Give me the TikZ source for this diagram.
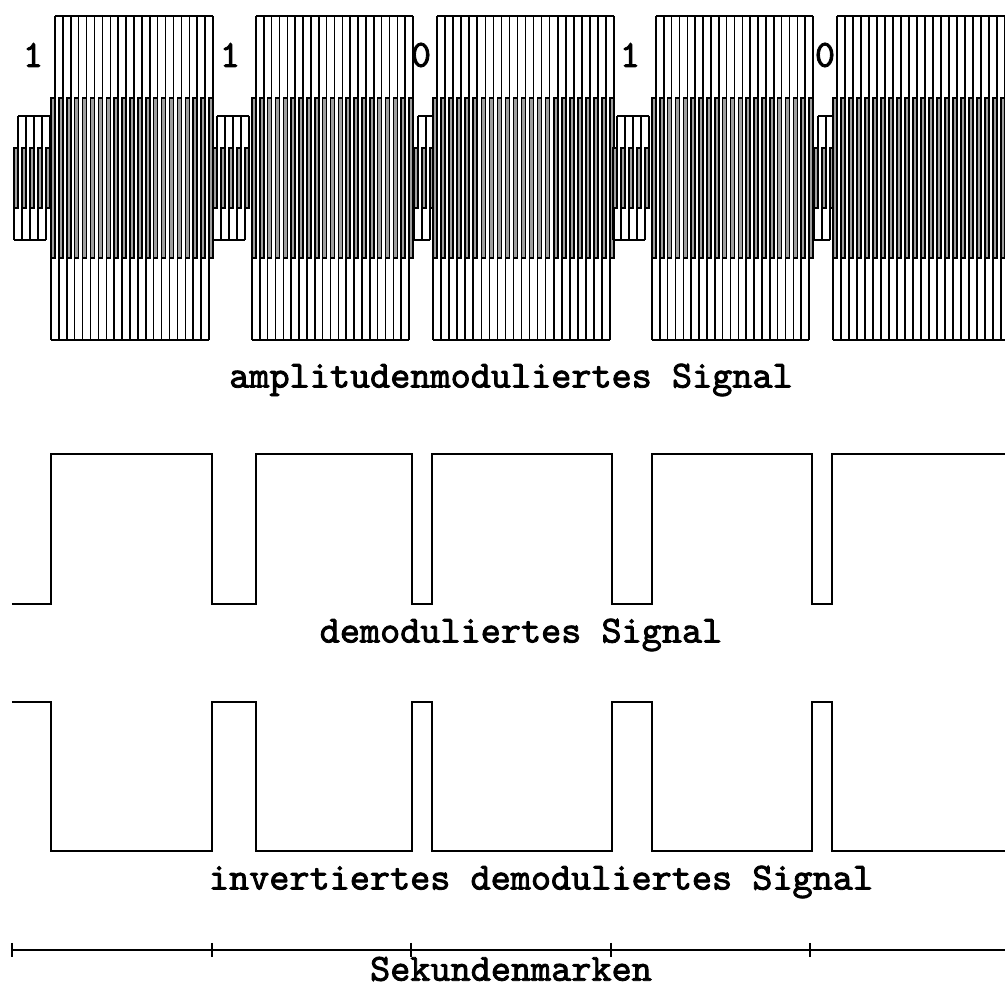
\documentclass[tikz,border=0pt]{standalone}
\usepackage{fontspec}
\newfontfamily\labelfont{lmmono10-regular.otf}[FakeBold=2.2]

% Traegerpaket: Start, Anzahl, Abstand, aeussere Amplitude, Bandbreite
\newcommand{\traeger}[5]{%
  \foreach \i in {1,...,#2}{
    \pgfmathsetmacro{\xa}{#1+#3*(\i-1)}
    \draw[band] (\xa,\mitte-#5) rectangle (\xa+4,\mitte+#5);
    \draw (\xa+4,\mitte-#4) -- (\xa+4,\mitte-#5);
    \draw (\xa,\mitte+#5) -- (\xa,\mitte+#4);
  }
  \pgfmathsetmacro{\xe}{#1+#3*(#2-1)}
  \draw (#1+4,\mitte-#4) -- (\xe+4,\mitte-#4);
  \draw (#1,\mitte+#4) -- (\xe,\mitte+#4);
}

\begin{document}
\begin{tikzpicture}[x=0.01cm,y=-0.01cm,line width=0.45pt,
    label text/.style={font=\labelfont\fontsize{10.9}{12}\selectfont,inner sep=0pt},
    band/.style={draw=black,fill=gray!75}]
  \useasboundingbox (0,0) rectangle (1005,985);
  \clip (0,0) rectangle (1005,985);
  \def\mitte{178}
  \def\hochA{162}
  \def\hochB{80}
  \def\tiefA{62}
  \def\tiefB{30}
  % amplitudenmoduliertes Signal
  \traeger{14}{5}{8}{\tiefA}{\tiefB}
  \traeger{51}{21}{7.9}{\hochA}{\hochB}
  \traeger{213}{5}{8}{\tiefA}{\tiefB}
  \traeger{252}{21}{7.85}{\hochA}{\hochB}
  \traeger{414}{3}{8}{\tiefA}{\tiefB}
  \traeger{433}{23}{8.05}{\hochA}{\hochB}
  \traeger{613}{5}{8}{\tiefA}{\tiefB}
  \traeger{652}{21}{7.85}{\hochA}{\hochB}
  \traeger{814}{3}{8}{\tiefA}{\tiefB}
  \traeger{833}{23}{8}{\hochA}{\hochB}
  \foreach \x/\b [count=\k] in {33/1,230/1,421/0,630/1,825/0}
    \node[label text] (bit\k) at (\x,55) {\b};
  \node[label text] (amsig) at (511,380) {amplitudenmoduliertes Signal};
  % demoduliertes Signal
  \draw (12,604) -| (51,454) -| (212,604) -| (256,454) -| (412,604) -| (432,454)
    -| (612,604) -| (652,454) -| (812,604) -| (832,454) -- (1005,454);
  \node[label text] (demsig) at (521,635) {demoduliertes Signal};
  % invertiertes Signal
  \draw (12,702) -| (51,851) -| (212,702) -| (256,851) -| (412,702) -| (432,851)
    -| (612,702) -| (652,851) -| (812,702) -| (832,851) -- (1005,851);
  \node[label text] (invsig) at (541,882) {invertiertes demoduliertes Signal};
  % Sekundenmarken
  \draw (12,950) -- (1005,950);
  \foreach \x in {12,212,411,611,810}
    \draw (\x,943) -- (\x,957);
  \node[label text] (sekmark) at (511,969) {Sekundenmarken};
\end{tikzpicture}
\end{document}
